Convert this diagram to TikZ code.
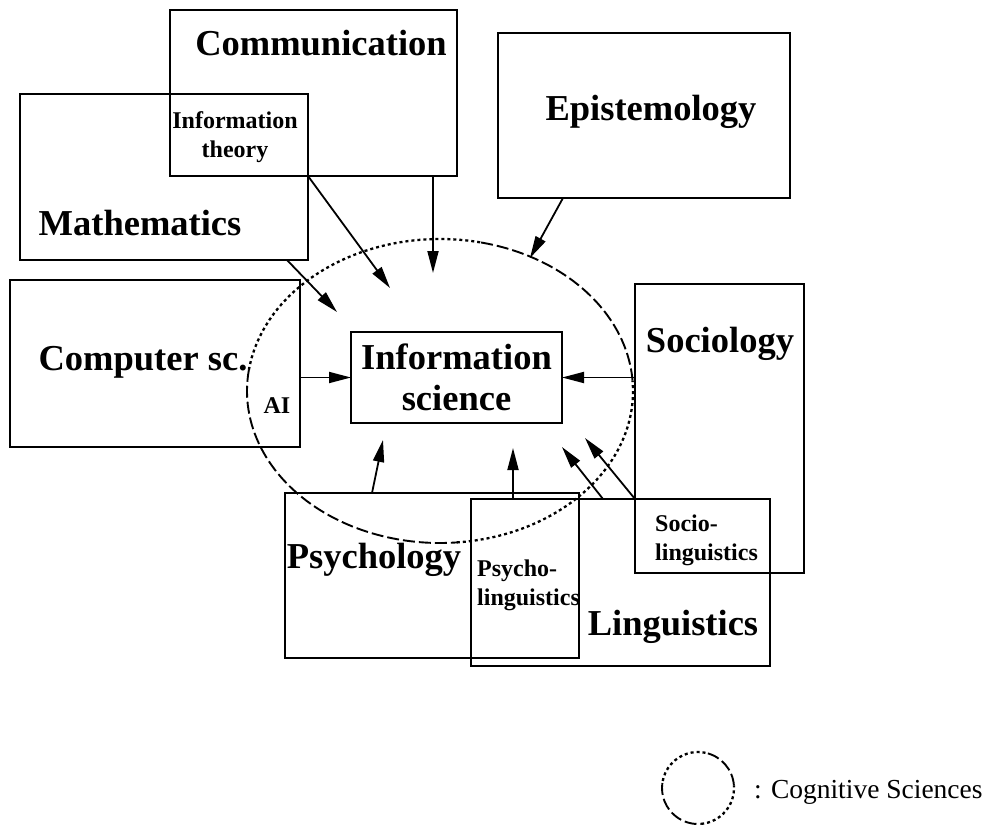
\documentclass[tikz,border=0pt]{standalone}
\usepackage{fontspec}
\setmainfont{Liberation Serif}
\usetikzlibrary{arrows.meta}
\begin{document}
\begin{tikzpicture}[x=1pt,y=-1pt,
  box/.style={draw, line width=1.8pt, rectangle, inner sep=0pt, outer sep=0pt, anchor=north west},
  big/.style={font=\fontsize{36.5}{41}\selectfont\bfseries, inner sep=0pt, anchor=base},
  small/.style={font=\fontsize{24}{29}\selectfont\bfseries, inner sep=0pt},
  arr/.style={line width=1.8pt, -{Triangle[length=22pt,width=11pt]}},
  dotseg/.style={line width=2.3pt, dash pattern=on 3pt off 3pt},
  dashseg/.style={line width=1.9pt, dash pattern=on 12pt off 4pt},
]
\useasboundingbox (0,0) rectangle (986,825);

% boxes
\node[box, minimum width=287pt, minimum height=166pt] (comm) at (170,10) {};
\node[box, minimum width=288pt, minimum height=166pt] (math) at (20,94) {};
\node[box, minimum width=292pt, minimum height=165pt] (epist) at (498,33) {};
\node[box, minimum width=290pt, minimum height=167pt] (comp) at (10,280) {};
\node[box, minimum width=211pt, minimum height=91pt,
      font=\fontsize{36.5}{41}\selectfont\bfseries, align=center] (info) at (351,332) {Information\\science};
\node[box, minimum width=169pt, minimum height=289pt] (soc) at (635,284) {};
\node[box, minimum width=294pt, minimum height=165pt] (psy) at (285,493) {};
\node[box, minimum width=299pt, minimum height=167pt] (ling) at (471,499) {};

% labels
\node[big] (commL) at (321,55) {Communication};
\node[small, align=center] (itL) at (235,137) {Information\\theory};
\node[big] (mathL) at (140,235) {Mathematics};
\node[big] (epL) at (651,120) {Epistemology};
\node[big] (compL) at (143,370) {Computer sc.};
\node[small, anchor=base] (aiL) at (277,413) {AI};
\node[big] (socL) at (720,352) {Sociology};
\node[small, align=left, anchor=west] (slL) at (655,540) {Socio-\\linguistics};
\node[big] (psyL) at (374,568) {Psychology};
\node[small, align=left, anchor=west] (plL) at (477,585) {Psycho-\\linguistics};
\node[big] (lingL) at (673,635) {Linguistics};

% cognitive sciences ellipse
\coordinate (cs) at (440,391);
\draw[dotseg] (cs) ++(78:193pt and 152pt) arc[start angle=78, end angle=172, x radius=193pt, y radius=152pt];
\draw[dashseg] (cs) ++(172:193pt and 152pt) arc[start angle=172, end angle=275, x radius=193pt, y radius=152pt];
\draw[dotseg] (cs) ++(275:193pt and 152pt) arc[start angle=275, end angle=364, x radius=193pt, y radius=152pt];
\draw[dashseg] (cs) ++(4:193pt and 152pt) arc[start angle=4, end angle=78, x radius=193pt, y radius=152pt];

% arrow reference coordinates
\coordinate (x2) at (433,0);   \coordinate (t2) at (433,273);
\coordinate (t1) at (390,288);
\coordinate (x3) at (287,0);   \coordinate (t3) at (337,312);
\coordinate (x4) at (563,0);   \coordinate (t4) at (530,258);
\coordinate (x7) at (372,0);   \coordinate (t7) at (383,440);
\coordinate (x8) at (513,0);   \coordinate (t8) at (513,448);
\coordinate (x9) at (603,0);   \coordinate (t9) at (562,447);
\coordinate (t10) at (585,438);

% arrows
\draw[arr] (math.east |- comm.south) -- (t1);
\draw[arr] (comm.south -| x2) -- (t2);
\draw[arr] (math.south -| x3) -- (t3);
\draw[arr] (epist.south -| x4) -- (t4);
\draw[arr] (comp.east |- info.west) -- (info.west);
\draw[arr] (soc.west |- info.east) -- (info.east);
\draw[arr] (psy.north -| x7) -- (t7);
\draw[arr] (ling.north -| x8) -- (t8);
\draw[arr] (ling.north -| x9) -- (t9);
\draw[arr] (ling.north -| soc.west) -- (t10);

% legend
\coordinate (lc) at (698,788);
\draw[dotseg] (lc) ++(78:36pt) arc[start angle=78, end angle=172, radius=36pt];
\draw[dashseg] (lc) ++(172:36pt) arc[start angle=172, end angle=275, radius=36pt];
\draw[dotseg] (lc) ++(275:36pt) arc[start angle=275, end angle=364, radius=36pt];
\draw[dashseg] (lc) ++(4:36pt) arc[start angle=4, end angle=78, radius=36pt];
\node[font=\fontsize{27.5}{32}\selectfont, inner sep=0pt, anchor=base west] (legL) at (754,798) {: Cognitive Sciences};
\end{tikzpicture}
\end{document}
